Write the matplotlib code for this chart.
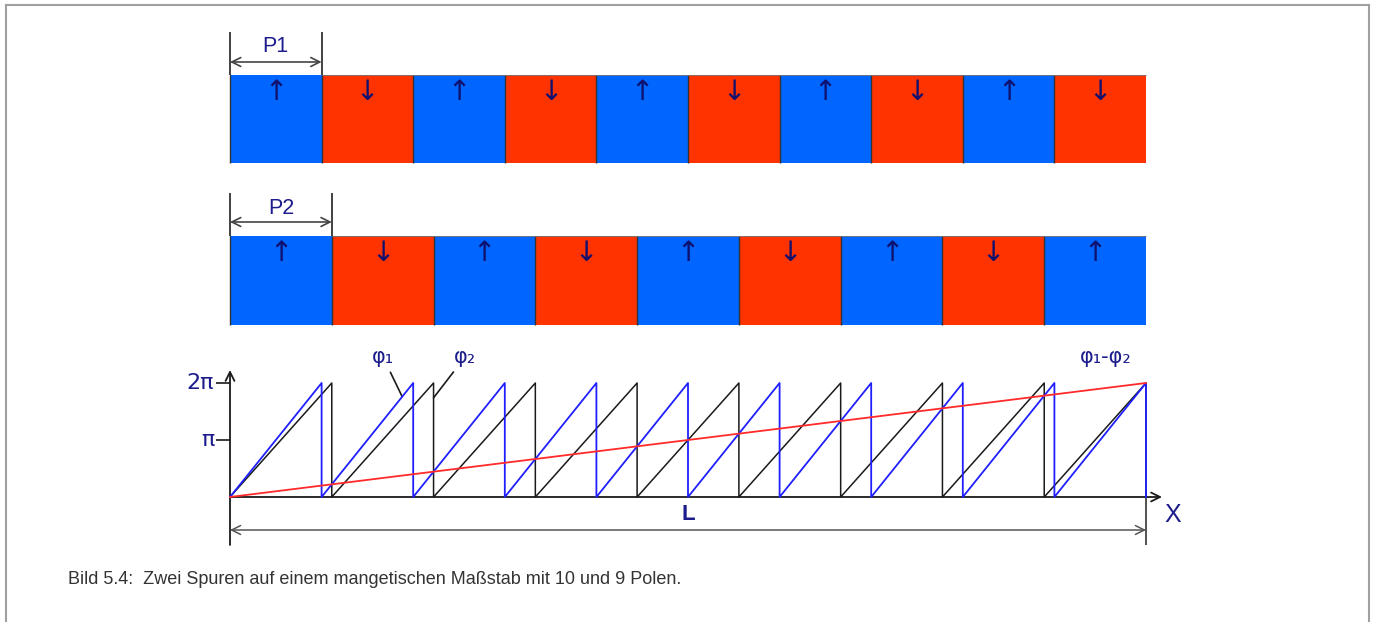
import numpy as np
import matplotlib.pyplot as plt
from matplotlib.lines import Line2D

# ---------------------------------------------------------------------------
# Data: two magnetic tracks over the same scale length L
L = 1.0
n_poles_1 = 10
n_poles_2 = 9
pole_dir_1 = ['up', 'down', 'up', 'down', 'up', 'down', 'up', 'down', 'up', 'down']
pole_dir_2 = ['up', 'down', 'up', 'down', 'up', 'down', 'up', 'down', 'up']
pole_color = {'up': '#0066ff', 'down': '#ff3300'}
pole_glyph = {'up': '\u2191', 'down': '\u2193'}
phase_ticks = [np.pi, 2 * np.pi]
phase_ticklabels = ['\u03c0', '2\u03c0']
caption = 'Bild 5.4:  Zwei Spuren auf einem mangetischen Ma\u00dfstab mit 10 und 9 Polen.'

# ---------------------------------------------------------------------------
# Layout (figure pixels)
W, H = 1375, 622
X0_PX, XL_PX = 230, 1146
TRACK1 = (75, 163)
TRACK2 = (236, 325)
BASE_PX, TOP_PX = 497, 383

navy = '#1c1c8c'
dark = '#333333'

fig = plt.figure(figsize=(W / 100, H / 100), dpi=100)
scale = XL_PX - X0_PX
xlim = (-X0_PX / scale * L, (W - X0_PX) / scale * L)


def px_x(p):
    return (p - X0_PX) / scale * L


# axes for tracks / annotations: x in scale units, y in pixels (top down)
ax = fig.add_axes([0, 0, 1, 1])
ax.set_xlim(*xlim)
ax.set_ylim(H, 0)
ax.axis('off')

# axes for the phase plot: y in radians
axp = fig.add_axes([0, 0, 1, 1])
axp.set_xlim(*xlim)
rad_per_px = 2 * np.pi / (BASE_PX - TOP_PX)
axp.set_ylim(-(H - BASE_PX) * rad_per_px, BASE_PX * rad_per_px)
axp.axis('off')
axp.patch.set_visible(False)


# ---------------------------------------------------------------------------
def draw_track(dirs, n, top, bot, label, dim_y, label_y, dim_top):
    edges = np.linspace(0, L, n + 1)
    width = L / n
    centers = edges[:-1] + width / 2
    ax.bar(centers, bot - top, width=width, bottom=top,
           color=[pole_color[d] for d in dirs], edgecolor='none', zorder=1)
    ax.vlines(edges[:-1], top, bot, color=dark, lw=1.0, zorder=2)
    ax.hlines(top, edges[1], L, color='#777777', lw=0.6, zorder=2)
    for c, d in zip(centers, dirs):
        ax.text(c, top + 17, pole_glyph[d], ha='center', va='center',
                fontsize=20, color='#10106e', family='DejaVu Sans', zorder=3)
    # pole pitch dimension
    ax.vlines([0, width], dim_top, top, color=dark, lw=1.3, zorder=3)
    ax.annotate('', xy=(width, dim_y), xytext=(0, dim_y),
                arrowprops=dict(arrowstyle='<->', color='#444444', lw=1.2,
                                mutation_scale=16, shrinkA=0, shrinkB=0))
    ax.text(width / 2, label_y, label, ha='center', va='center',
            fontsize=15.5, color=navy, family='Liberation Sans')
    return edges


edges1 = draw_track(pole_dir_1, n_poles_1, *TRACK1, 'P1', 62, 47, 32)
edges2 = draw_track(pole_dir_2, n_poles_2, *TRACK2, 'P2', 222, 208, 193)


def sawtooth(edges):
    xs, ys = [], []
    for a, b in zip(edges[:-1], edges[1:]):
        xs += [a, b, b]
        ys += [0, 2 * np.pi, 0]
    return xs, ys


phi1_x, phi1_y = sawtooth(edges1)
phi2_x, phi2_y = sawtooth(edges2)
diff_x = [0, L]
diff_y = [0, 2 * np.pi]

axp.plot(phi2_x, phi2_y, color='#1a1a1a', lw=1.1, zorder=3)
axp.plot(phi1_x, phi1_y, color='#1f1fff', lw=1.3, zorder=4)
axp.plot(diff_x, diff_y, color='#ff2a2a', lw=1.3, zorder=5)

# axes of the phase plot
y_bottom = -(545 - BASE_PX) * rad_per_px
y_arrow = (BASE_PX - 370) * rad_per_px
axp.annotate('', xy=(0, y_arrow), xytext=(0, y_bottom),
             arrowprops=dict(arrowstyle='->', color='#1a1a1a', lw=1.3,
                             mutation_scale=16, shrinkA=0, shrinkB=0))
axp.annotate('', xy=(px_x(1162), 0), xytext=(0, 0),
             arrowprops=dict(arrowstyle='->', color='#1a1a1a', lw=1.3,
                             mutation_scale=16, shrinkA=0, shrinkB=0))
axp.vlines(L, y_bottom, 0, color=dark, lw=1.2)
for t, lab in zip(phase_ticks, phase_ticklabels):
    axp.hlines(t, px_x(216), 0, color='#1a1a1a', lw=1.2)
    axp.text(px_x(214), t, lab, ha='right', va='center', fontsize=16,
             color=navy, family='DejaVu Sans')

# L dimension
ax.annotate('', xy=(L, 530), xytext=(0, 530),
            arrowprops=dict(arrowstyle='<->', color='#555555', lw=1.1,
                            mutation_scale=16, shrinkA=0, shrinkB=0))
ax.text(L / 2, 514, 'L', ha='center', va='center', fontsize=16,
        fontweight='bold', color=navy, family='Liberation Sans')
ax.text(px_x(1173), 515, 'X', ha='center', va='center', fontsize=18,
        color=navy, family='Liberation Sans')

# curve labels with leader lines
w1 = L / n_poles_1
w2 = L / n_poles_2
label_y = (BASE_PX - 357) * rad_per_px
axp.annotate('\u03c6\u2081', xy=(w1 + 0.88 * w1, 0.88 * 2 * np.pi),
             xytext=(px_x(383), label_y),
             ha='center', va='center', fontsize=15, color=navy,
             arrowprops=dict(arrowstyle='-', color='#1a1a1a', lw=1.2,
                             shrinkA=2, shrinkB=0))
axp.annotate('\u03c6\u2082', xy=(2 * w2, 0.87 * 2 * np.pi),
             xytext=(px_x(465), label_y),
             ha='center', va='center', fontsize=15, color=navy,
             arrowprops=dict(arrowstyle='-', color='#1a1a1a', lw=1.2,
                             shrinkA=2, shrinkB=0))
axp.text(px_x(1106), label_y, '\u03c6\u2081-\u03c6\u2082',
         ha='center', va='center', fontsize=15, color=navy)

# caption
ax.text(px_x(68), 580, caption, ha='left', va='center', fontsize=13,
        color='#333333', family='Liberation Sans')

# frame around the figure
for xs, ys in [([6 / W, 6 / W], [0, 1 - 5 / H]),
               ([6 / W, 1369 / W], [1 - 5 / H, 1 - 5 / H]),
               ([1369 / W, 1369 / W], [1 - 5 / H, 0])]:
    fig.add_artist(Line2D(xs, ys, color='#a0a0a0', lw=1.5))

fig.savefig('out.png', dpi=100, facecolor='white')
